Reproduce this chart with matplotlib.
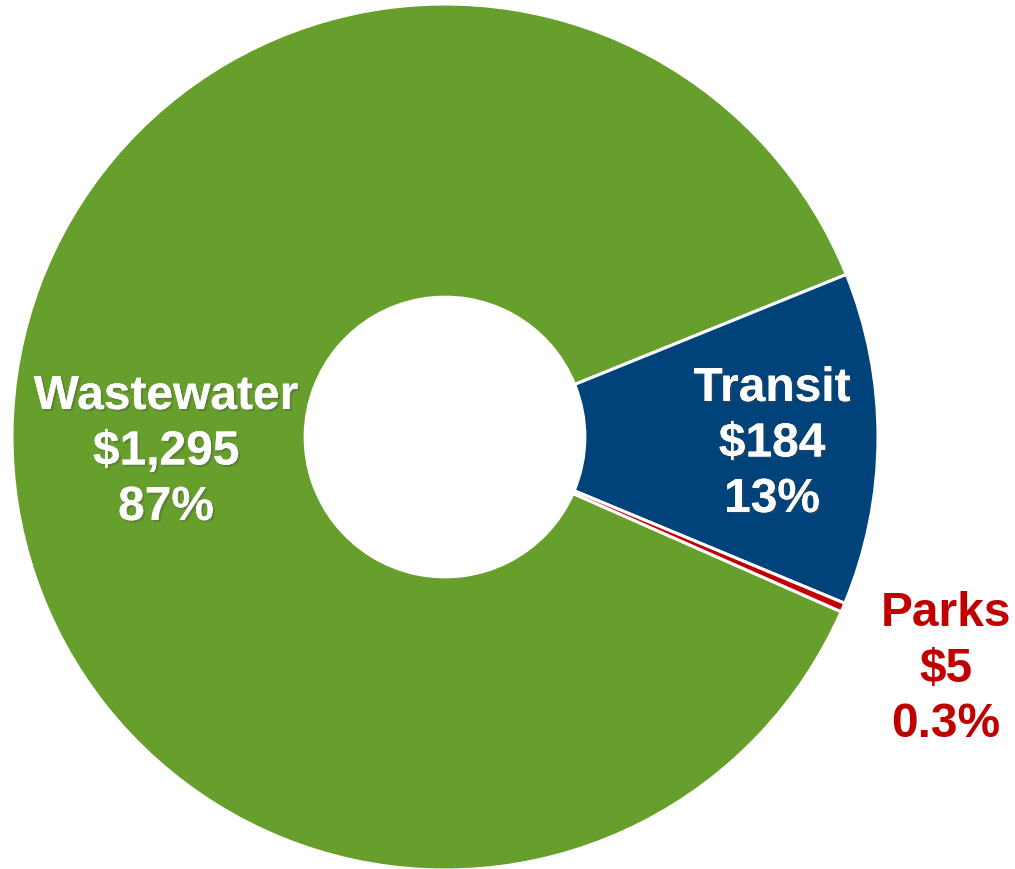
#!/usr/bin/env python3
"""Donut chart of program spending by category."""

import matplotlib.pyplot as plt
import matplotlib.patheffects as pe

categories = ["Wastewater", "Transit", "Parks"]
amounts = [1295, 184, 5]
amount_labels = ["$1,295", "$184", "$5"]
pct_labels = ["87%", "13%", "0.3%"]
colors = ["#669F2B", "#00427A", "#C00000"]

plt.rcParams["font.family"] = ["Liberation Sans", "DejaVu Sans"]

fig = plt.figure(figsize=(10.15, 8.69), dpi=100)
fig.patch.set_facecolor("white")
ax = fig.add_axes([0, 0, 1, 1])

center = (445, 432)
radius = 433
ax.pie(
    amounts,
    colors=colors,
    startangle=-23.8,
    counterclock=False,
    center=center,
    radius=radius,
    wedgeprops=dict(width=radius * 0.677, edgecolor="white", linewidth=2.2),
    frame=True,
)
ax.set_xlim(0, 1015)
ax.set_ylim(0, 869)
ax.set_aspect("equal")
ax.axis("off")

# label centres in pixels from the top-left corner
label_pos = [(166, 452), (772, 444), (946, 669)]
text_colors = ["white", "white", "#C00000"]
for i, name in enumerate(categories):
    t = ax.text(
        label_pos[i][0],
        869 - label_pos[i][1],
        f"{name}\n{amount_labels[i]}\n{pct_labels[i]}",
        ha="center",
        va="center",
        fontsize=34.5,
        fontweight="bold",
        color=text_colors[i],
        linespacing=1.3,
    )
    if text_colors[i] == "white":
        t.set_path_effects([pe.withSimplePatchShadow(offset=(1.5, -1.5), alpha=0.35), pe.Normal()])

fig.savefig("out.png", dpi=100, facecolor="white")
